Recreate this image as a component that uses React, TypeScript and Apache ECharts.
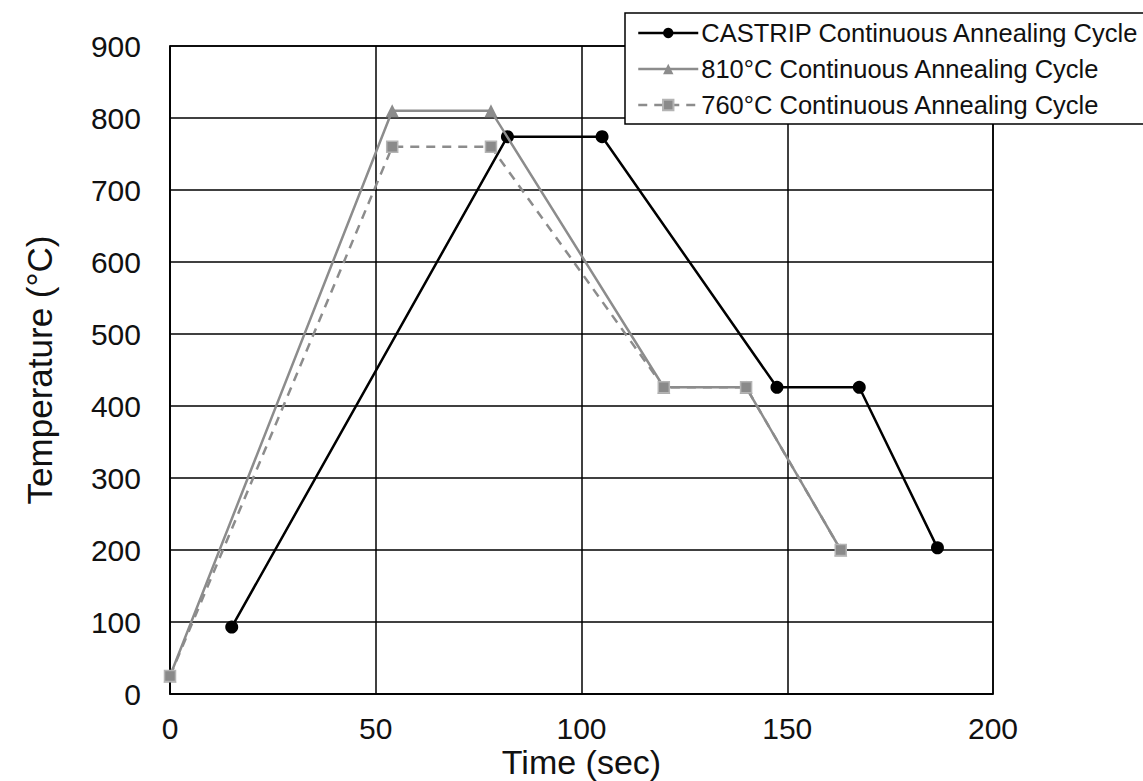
import React, { useEffect, useRef } from "react";
import * as echarts from "echarts";

const seriesNames = [
  "CASTRIP Continuous Annealing Cycle",
  "810°C Continuous Annealing Cycle",
  "760°C Continuous Annealing Cycle",
];
const castripTime = [15, 82, 105, 147.5, 167.5, 186.5];
const castripTemp = [93, 774, 774, 426, 426, 203];
const c810Time = [0, 54, 78, 120, 140, 163];
const c810Temp = [25, 810, 810, 426, 426, 200];
const c760Time = [0, 54, 78, 120, 140, 163];
const c760Temp = [25, 760, 760, 426, 426, 200];
const xTicks = [0, 50, 100, 150, 200];
const yTicks = [0, 100, 200, 300, 400, 500, 600, 700, 800, 900];

const FONT = "Liberation Sans, Arial, sans-serif";

export default function App() {
  const ref = useRef<HTMLDivElement>(null);
  useEffect(() => {
    if (!ref.current) return;
    const chart = echarts.init(ref.current, undefined, { renderer: "svg" });
    const pair = (xs: number[], ys: number[]) => xs.map((x, i) => [x, ys[i]]);
    chart.setOption({
      animation: false,
      backgroundColor: "#ffffff",
      textStyle: { fontFamily: FONT },
      grid: {
        left: 170,
        right: 150,
        top: 46,
        bottom: 87,
        containLabel: false,
        outerBoundsMode: "none",
        show: true,
        borderColor: "#000",
        borderWidth: 1.5,
      },
      legend: {
        orient: "vertical",
        left: 625,
        top: 13,
        padding: [7, 12, 6, 12],
        itemWidth: 60,
        itemHeight: 13,
        itemGap: 10,
        backgroundColor: "#fff",
        borderColor: "#000",
        borderWidth: 1.5,
        borderRadius: 0,
        lineStyle: { width: 2.5 },
        textStyle: { fontSize: 25.5, color: "#111", fontFamily: FONT, padding: [0, 0, 0, -2] },
        data: seriesNames,
      },
      xAxis: {
        type: "value",
        min: xTicks[0],
        max: xTicks[xTicks.length - 1],
        interval: 50,
        name: "Time (sec)",
        nameLocation: "middle",
        nameGap: 51,
        nameMoveOverlap: false,
        nameTextStyle: { fontSize: 34, lineHeight: 34, color: "#111", fontFamily: FONT },
        axisLine: { show: true, lineStyle: { color: "#000", width: 1.5 } },
        axisTick: { show: false },
        axisLabel: { fontSize: 30, lineHeight: 30, color: "#111", margin: 19, fontFamily: FONT },
        splitLine: { show: true, lineStyle: { color: "#000", width: 1.5 } },
      },
      yAxis: {
        type: "value",
        min: yTicks[0],
        max: yTicks[yTicks.length - 1],
        interval: 100,
        name: "Temperature (°C)",
        nameLocation: "middle",
        nameGap: 113,
        nameMoveOverlap: false,
        nameTextStyle: { fontSize: 35, color: "#111", fontFamily: FONT },
        axisLine: { show: true, lineStyle: { color: "#000", width: 1.5 } },
        axisTick: { show: false },
        axisLabel: { fontSize: 30, color: "#111", margin: 29, fontFamily: FONT },
        splitLine: { show: true, lineStyle: { color: "#000", width: 1.5 } },
      },
      series: [
        {
          name: seriesNames[0],
          type: "line",
          data: pair(castripTime, castripTemp),
          symbol: "circle",
          symbolSize: 13,
          itemStyle: { color: "#000" },
          lineStyle: { color: "#000", width: 2.5 },
          z: 3,
        },
        {
          name: seriesNames[1],
          type: "line",
          data: pair(c810Time, c810Temp),
          symbol: "triangle",
          symbolSize: 13,
          itemStyle: { color: "#8c8c8c" },
          lineStyle: { color: "#8c8c8c", width: 2.5 },
          z: 4,
        },
        {
          name: seriesNames[2],
          type: "line",
          data: pair(c760Time, c760Temp),
          symbol: "rect",
          symbolSize: 11,
          itemStyle: { color: "#8a8a8a", borderColor: "#b4b4b4", borderWidth: 1.5 },
          lineStyle: { color: "#8c8c8c", width: 2.5, type: [9, 7] },
          z: 5,
        },
      ],
    });
    return () => chart.dispose();
  }, []);
  return (
    <div
      ref={ref}
      style={{ position: "fixed", left: 0, top: 0, width: 1143, height: 781 }}
    />
  );
}
